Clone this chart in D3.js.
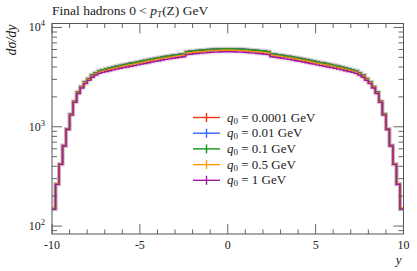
<!DOCTYPE html>
<html lang="en">
<head>
<meta charset="utf-8">
<title>Final hadrons</title>
<script src="https://cdn.jsdelivr.net/npm/d3@7"></script>
<style>
  body { margin: 0; background: #fff; }
  text { font-family: "Liberation Serif", "DejaVu Serif", serif; fill: #222; }
</style>
</head>
<body>
<svg id="chart" width="417" height="271"></svg>
<script>
// legend labels (the q0 cut) and colours, drawn in this order
var q0Labels = ["0.0001", "0.01", "0.1", "0.5", "1"];
var q0Colors = ["#EE3311", "#3366FF", "#109618", "#FF9900", "#A0189F"];

// 100 bins from -10 to 10
var binLow = -10, binHigh = 10, nBins = 100;

var q0_0001 = [149,265,421,649,954,1342,1804,2236,2547,2843,3062,3325,3503,3675,3761,3835,3909,4003,4078,4153,4237,4301,4377,4441,4516,4592,4667,4753,4828,4903,4979,5054,5130,5194,5258,5323,5388,5452,5732,5786,5839,5882,5925,5969,6011,6043,6076,6097,6118,6129,
  6129,6118,6097,6076,6043,6011,5969,5925,5882,5839,5786,5732,5452,5388,5323,5258,5194,5130,5054,4979,4903,4828,4753,4667,4592,4516,4441,4377,4301,4237,4153,4078,4003,3909,3835,3761,3675,3503,3325,3062,2843,2547,2236,1804,1342,954,649,421,265,149];
var q0_001 = [148,264,419,647,951,1339,1799,2229,2539,2835,3053,3315,3493,3664,3749,3824,3898,3991,4066,4140,4224,4289,4364,4428,4503,4578,4653,4738,4814,4889,4964,5039,5114,5178,5242,5308,5372,5436,5714,5769,5822,5865,5908,5951,5993,6025,6058,6079,6100,6111,
  6111,6100,6079,6058,6025,5993,5951,5908,5865,5822,5769,5714,5436,5372,5308,5242,5178,5114,5039,4964,4889,4814,4738,4653,4578,4503,4428,4364,4289,4224,4140,4066,3991,3898,3824,3749,3664,3493,3315,3053,2835,2539,2229,1799,1339,951,647,419,264,148];
var q0_01 = [148,263,418,646,949,1336,1795,2225,2534,2829,3047,3308,3486,3657,3742,3816,3890,3983,4058,4132,4216,4280,4355,4419,4494,4569,4644,4729,4804,4879,4954,5029,5104,5168,5232,5297,5361,5425,5703,5757,5810,5853,5896,5939,5981,6013,6046,6067,6088,6099,
  6099,6088,6067,6046,6013,5981,5939,5896,5853,5810,5757,5703,5425,5361,5297,5232,5168,5104,5029,4954,4879,4804,4729,4644,4569,4494,4419,4355,4280,4216,4132,4058,3983,3890,3816,3742,3657,3486,3308,3047,2829,2534,2225,1795,1336,949,646,418,263,148];
var q0_05 = [152,266,421,643,945,1323,1778,2192,2497,2774,2989,3229,3403,3554,3636,3708,3780,3862,3934,4006,4078,4140,4212,4275,4347,4419,4492,4575,4647,4720,4792,4865,4937,4999,5061,5123,5185,5247,5517,5568,5620,5661,5703,5744,5786,5817,5848,5868,5889,5900,
  5900,5889,5868,5848,5817,5786,5744,5703,5661,5620,5568,5517,5247,5185,5123,5061,4999,4937,4865,4792,4720,4647,4575,4492,4419,4347,4275,4212,4140,4078,4006,3934,3862,3780,3708,3636,3554,3403,3229,2989,2774,2497,2192,1778,1323,945,643,421,266,152];
var q0_1 = [148,263,418,640,940,1310,1760,2160,2460,2720,2930,3150,3320,3450,3530,3600,3670,3740,3810,3880,3940,4000,4070,4130,4200,4270,4340,4420,4490,4560,4630,4700,4770,4830,4890,4950,5010,5070,5330,5380,5430,5470,5510,5550,5590,5620,5650,5670,5690,5700,
  5700,5690,5670,5650,5620,5590,5550,5510,5470,5430,5380,5330,5070,5010,4950,4890,4830,4770,4700,4630,4560,4490,4420,4340,4270,4200,4130,4070,4000,3940,3880,3810,3740,3670,3600,3530,3450,3320,3150,2930,2720,2460,2160,1760,1310,940,640,418,263,148];

var series = [q0_0001, q0_001, q0_01, q0_05, q0_1];

var xTicksMajor = [-10, -5, 0, 5, 10];
var yTicksMajor = [100, 1000, 10000];

var plotL = 52, plotR = 403.5, plotT = 23.5, plotB = 234;

var svg = d3.select("#chart");

var x = d3.scaleLinear().domain([binLow, binHigh]).range([plotL, plotR]);
var y = d3.scaleLog().domain([Math.pow(10, 1.92), Math.pow(10, 4.04)]).range([plotB, plotT]);

var edges = d3.range(nBins + 1).map(function (i) { return binLow + i * (binHigh - binLow) / nBins; });

// histograms as steps
var line = d3.line()
  .x(function (d) { return x(d[0]); })
  .y(function (d) { return y(d[1]); })
  .curve(d3.curveStepAfter);

series.forEach(function (vals, k) {
  var pts = vals.map(function (v, i) { return [edges[i], v]; });
  pts.push([edges[nBins], vals[nBins - 1]]);
  // faint halo, like the error band blur in the original
  svg.append("path")
    .attr("d", line(pts))
    .attr("fill", "none")
    .attr("stroke", q0Colors[k])
    .attr("stroke-opacity", 0.12)
    .attr("stroke-width", 4);
  svg.append("path")
    .attr("d", line(pts))
    .attr("fill", "none")
    .attr("stroke", q0Colors[k])
    .attr("stroke-width", 1.4);
});

// ticks, inward on all four sides
var minorX = d3.range(-10, 11).filter(function (v) { return xTicksMajor.indexOf(v) < 0; });
var minorY = [];
[10, 100, 1000].forEach(function (d) {
  for (var m = 1; m <= 9; m++) {
    var v = d * m;
    if (v >= y.domain()[0] && v <= y.domain()[1] && yTicksMajor.indexOf(v) < 0) minorY.push(v);
  }
});

var g = svg.append("g").attr("stroke", "#555").attr("stroke-width", 0.9);
xTicksMajor.forEach(function (v) {
  g.append("line").attr("x1", x(v)).attr("x2", x(v)).attr("y1", plotB).attr("y2", plotB - 10);
  g.append("line").attr("x1", x(v)).attr("x2", x(v)).attr("y1", plotT).attr("y2", plotT + 10);
});
minorX.forEach(function (v) {
  g.append("line").attr("x1", x(v)).attr("x2", x(v)).attr("y1", plotB).attr("y2", plotB - 4.5);
  g.append("line").attr("x1", x(v)).attr("x2", x(v)).attr("y1", plotT).attr("y2", plotT + 4.5);
});
yTicksMajor.forEach(function (v) {
  g.append("line").attr("x1", plotL).attr("x2", plotL + 10).attr("y1", y(v)).attr("y2", y(v));
  g.append("line").attr("x1", plotR).attr("x2", plotR - 10).attr("y1", y(v)).attr("y2", y(v));
});
minorY.forEach(function (v) {
  g.append("line").attr("x1", plotL).attr("x2", plotL + 5).attr("y1", y(v)).attr("y2", y(v));
  g.append("line").attr("x1", plotR).attr("x2", plotR - 5).attr("y1", y(v)).attr("y2", y(v));
});

svg.append("rect")
  .attr("x", plotL).attr("y", plotT)
  .attr("width", plotR - plotL).attr("height", plotB - plotT)
  .attr("fill", "none").attr("stroke", "#555").attr("stroke-width", 1);

// tick labels
xTicksMajor.forEach(function (v) {
  svg.append("text").attr("x", x(v)).attr("y", plotB + 15)
    .attr("text-anchor", "middle").attr("font-size", 12)
    .text(v < 0 ? "-" + Math.abs(v) : v);
});
var sup = { 100: "2", 1000: "3", 10000: "4" };
yTicksMajor.forEach(function (v) {
  var t = svg.append("text").attr("x", plotL - 7).attr("y", y(v) + 4)
    .attr("text-anchor", "end").attr("font-size", 12);
  t.append("tspan").text("10");
  t.append("tspan").attr("dy", -5).attr("font-size", 8.5).text(sup[v]);
});

// title and axis labels
var title = svg.append("text").attr("x", plotL).attr("y", 15).attr("font-size", 13.5);
title.append("tspan").text("Final hadrons 0 < ");
title.append("tspan").attr("font-style", "italic").text("p");
title.append("tspan").attr("font-style", "italic").attr("font-size", 9).attr("dy", 2).text("T");
title.append("tspan").attr("dy", -2).text("(Z) GeV");

svg.append("text")
  .attr("transform", "translate(16," + (plotT + 1) + ") rotate(-90)")
  .attr("text-anchor", "end").attr("font-size", 14).attr("font-style", "italic")
  .text("dσ/dy");

svg.append("text").attr("x", plotR - 2).attr("y", 264)
  .attr("text-anchor", "end").attr("font-size", 13).attr("font-style", "italic")
  .text("y");

// legend
q0Labels.forEach(function (lab, k) {
  var ly = 117.5 + k * 15.7;
  svg.append("line").attr("x1", 193).attr("x2", 220).attr("y1", ly).attr("y2", ly)
    .attr("stroke", q0Colors[k]).attr("stroke-width", 1.4);
  svg.append("line").attr("x1", 206.5).attr("x2", 206.5).attr("y1", ly - 4.5).attr("y2", ly + 4.5)
    .attr("stroke", q0Colors[k]).attr("stroke-width", 1.4);
  var t = svg.append("text").attr("x", 227).attr("y", ly + 4).attr("font-size", 13);
  t.append("tspan").attr("font-style", "italic").text("q");
  t.append("tspan").attr("font-size", 9).attr("dy", 2).text("0");
  t.append("tspan").attr("dy", -2).text(" = " + lab + " GeV");
});
</script>
</body>
</html>
